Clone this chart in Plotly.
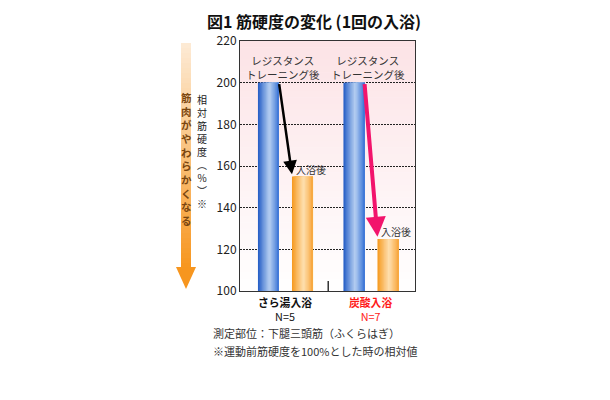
import plotly.graph_objects as go

# ---------------- data ----------------
categories = ["さら湯入浴", "炭酸入浴"]
n_labels = ["N=5", "N=7"]
before_values = [200, 200]          # レジスタンストレーニング後
after_values = [155, 125]           # 入浴後
y_ticks = [100, 120, 140, 160, 180, 200, 220]
before_label = "レジスタンス<br>トレーニング後"
after_label = "入浴後"
title_text = "図1 筋硬度の変化 (1回の入浴)"
y_title = "相対筋硬度︵%︶※"
arrow_text = "筋肉がやわらかくなる"
notes = ["測定部位：下腿三頭筋（ふくらはぎ）", "※運動前筋硬度を100%とした時の相対値"]

# ---------------- style ----------------
FONT = "Noto Sans CJK JP"
W, H = 610, 400
L, R, T, B = 240, 195, 41, 109
cat_colors = ["#111111", "#ff1a1a"]
arrow_colors = ["#000000", "#f2146c"]
arrow_widths = [2.5, 4]
arrow_sizes = [1.1, 1.0]
xpos = list(range(len(categories)))
BAR_W = 0.246
BLUE_LEFT = -0.322
ORANGE_LEFT = 0.076


def px(xp, yp):
    return (xp - L) / (W - L - R), (H - B - yp) / (H - T - B)


def hx(c):
    c = c.lstrip("#")
    return [int(c[i:i + 2], 16) for i in (0, 2, 4)]


def lerp(c1, c2, t):
    a, b = hx(c1), hx(c2)
    return "rgb(%d,%d,%d)" % tuple(round(a[i] + (b[i] - a[i]) * t) for i in range(3))


def profile(u, el, hi, er, peak=0.55):
    if u < peak:
        return lerp(el, hi, (u / peak) ** 0.9)
    return lerp(hi, er, (u - peak) / (1 - peak))


fig = go.Figure()

N_STRIPS = 16
for values, left, (el, hi, er) in [
    (before_values, BLUE_LEFT, ("#1d58c4", "#b6cff1", "#3a74d6")),
    (after_values, ORANGE_LEFT, ("#f59618", "#fee0b0", "#f8a53a")),
]:
    for i in range(N_STRIPS):
        u = (i + 0.5) / N_STRIPS
        fig.add_trace(go.Bar(
            x=xpos, y=values,
            offset=left + BAR_W * i / N_STRIPS,
            width=BAR_W * (N_STRIPS - i) / N_STRIPS,
            marker=dict(color=profile(u, el, hi, er), line=dict(width=0)),
            showlegend=False, hoverinfo="skip",
        ))

shapes = []
# plot background gradient (pink -> white)
NBG = 40
for k in range(NBG):
    t = k / NBG
    shapes.append(dict(type="rect", xref="paper", yref="paper", layer="below",
                       x0=0, x1=1, y0=1 - (k + 1) / NBG - 0.002, y1=1 - t,
                       fillcolor=lerp("#fce3e6", "#ffffff", t), line=dict(width=0)))

# middle tick mark
shapes.append(dict(type="line", xref="x", yref="paper", x0=0.5, x1=0.5, y0=0, y1=0.04,
                   line=dict(color="#333333", width=1.5)))

# left gradient arrow
sx0, sy_top = px(181, 43)
sx1, sy_bot = px(191, 268)
NA = 45
for k in range(NA):
    y1 = sy_top - (sy_top - sy_bot) * k / NA
    y0 = sy_top - (sy_top - sy_bot) * (k + 1) / NA - 0.003
    shapes.append(dict(type="rect", xref="paper", yref="paper", x0=sx0, x1=sx1, y0=y0, y1=y1,
                       fillcolor=lerp("#fdebd6", "#f7961f", (k + 0.5) / NA), line=dict(width=0)))
ax0, ay0 = px(176, 267)
ax1, _ = px(196, 267)
tipx, tipy = px(186, 289)
shapes.append(dict(type="path", xref="paper", yref="paper",
                   path=f"M {ax0},{ay0} L {ax1},{ay0} L {tipx},{tipy} Z",
                   fillcolor="#f7961f", line=dict(width=0)))

annotations = []
for i, x in enumerate(xpos):
    # arrows from before-bar top to after-bar top
    annotations.append(dict(
        x=x + ORANGE_LEFT, y=after_values[i] + 1, xref="x", yref="y",
        ax=x + BLUE_LEFT + BAR_W, ay=before_values[i], axref="x", ayref="y",
        showarrow=True, arrowhead=2, arrowsize=arrow_sizes[i], arrowwidth=arrow_widths[i],
        arrowcolor=arrow_colors[i], text="", standoff=0))
    annotations.append(dict(
        x=x - 0.03, y=before_values[i] + 7.5, xref="x", yref="y", text=before_label,
        showarrow=False, font=dict(family=FONT, size=10.5, color="#333333"),
        xanchor="center", yanchor="middle"))
    annotations.append(dict(
        x=x + 0.295, y=after_values[i] + 3.5, xref="x", yref="y", text=after_label,
        showarrow=False, font=dict(family=FONT, size=10, color="#333333"),
        xanchor="center", yanchor="middle"))
    annotations.append(dict(
        x=x, y=px(0, 309)[1], xref="x", yref="paper",
        text="<b>" + categories[i] + "<br><span style='font-weight:normal'>" + n_labels[i]
             + "</span></b>",
        showarrow=False, font=dict(family=FONT, size=10.8, color=cat_colors[i]),
        xanchor="center", yanchor="middle", align="center"))

# vertical y-axis title (one character per line)
xx, yy = px(202, 151)
annotations.append(dict(x=xx, y=yy, xref="paper", yref="paper",
                        text="<span style='font-weight:normal'>" + "<br>".join(y_title) + "</span>",
                        showarrow=False,
                        font=dict(family=FONT, size=10, color="#222222"),
                        xanchor="center", yanchor="middle", align="center"))

# vertical arrow text
xx, yy = px(186, 158.5)
annotations.append(dict(x=xx, y=yy, xref="paper", yref="paper",
                        text="<b>" + "<br>".join(arrow_text) + "</b>", showarrow=False,
                        font=dict(family=FONT, size=10.5, color="#7a4610"),
                        xanchor="center", yanchor="middle", align="center"))

# footnotes
for k, note in enumerate(notes):
    xx, yy = px(211, 333 + k * 18)
    annotations.append(dict(x=xx, y=yy, xref="paper", yref="paper", text=note, showarrow=False,
                            font=dict(family=FONT, size=11, color="#333333"),
                            xanchor="left", yanchor="middle"))

fig.update_layout(
    width=W, height=H,
    margin=dict(l=L, r=R, t=T, b=B, pad=0),
    paper_bgcolor="white", plot_bgcolor="rgba(0,0,0,0)",
    barmode="overlay",
    showlegend=False,
    title=dict(text="<b>" + title_text + "</b>", x=314 / W, xanchor="center", xref="container",
               y=1 - 22 / H, yanchor="middle", yref="container",
               font=dict(family=FONT, size=16, color="#111111")),
    xaxis=dict(range=[-0.532, 1.515], showline=True, mirror=True, linecolor="#333333",
               linewidth=1, showticklabels=False, showgrid=False, zeroline=False, ticks=""),
    yaxis=dict(range=[100, 220], tickvals=y_ticks, showline=True, mirror=True,
               linecolor="#333333", linewidth=1, showgrid=True, gridcolor="#222222",
               griddash="1.5px,1.5px", gridwidth=1, zeroline=False, ticks="",
               tickfont=dict(family=FONT, size=12, color="#222222")),
    shapes=shapes,
    annotations=annotations,
)

fig.write_html("out.html", config={"displayModeBar": False},
               post_script="document.body.style.margin='0';")
